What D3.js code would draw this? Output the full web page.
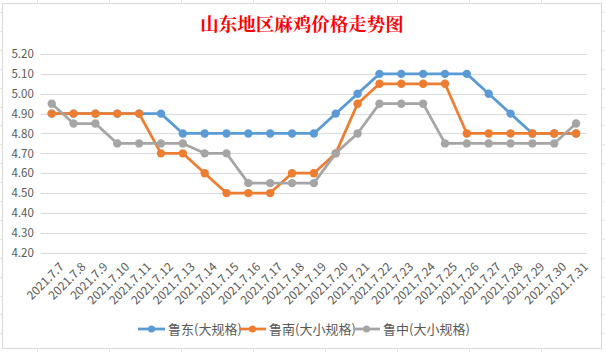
<!DOCTYPE html>
<html><head><meta charset="utf-8">
<script src="https://cdn.jsdelivr.net/npm/d3@7"></script>
<style>html,body{margin:0;padding:0;background:#fff;}svg{display:block;}</style>
</head><body>
<svg id="c" width="605" height="352"></svg>
<script>
const categories = ["2021.7.7","2021.7.8","2021.7.9","2021.7.10","2021.7.11","2021.7.12","2021.7.13","2021.7.14","2021.7.15","2021.7.16","2021.7.17","2021.7.18","2021.7.19","2021.7.20","2021.7.21","2021.7.22","2021.7.23","2021.7.24","2021.7.25","2021.7.26","2021.7.27","2021.7.28","2021.7.29","2021.7.30","2021.7.31"];
const ludong = [4.90,4.90,4.90,4.90,4.90,4.90,4.80,4.80,4.80,4.80,4.80,4.80,4.80,4.90,5.00,5.10,5.10,5.10,5.10,5.10,5.00,4.90,4.80,4.80,4.80];
const lunan  = [4.90,4.90,4.90,4.90,4.90,4.70,4.70,4.60,4.50,4.50,4.50,4.60,4.60,4.70,4.95,5.05,5.05,5.05,5.05,4.80,4.80,4.80,4.80,4.80,4.80];
const luzhong= [4.95,4.85,4.85,4.75,4.75,4.75,4.75,4.70,4.70,4.55,4.55,4.55,4.55,4.70,4.80,4.95,4.95,4.95,4.75,4.75,4.75,4.75,4.75,4.75,4.85];
const seriesNames = ["鲁东(大规格)","鲁南(大小规格)","鲁中(大小规格)"];
const yTicks = [4.2,4.3,4.4,4.5,4.6,4.7,4.8,4.9,5.0,5.1,5.2];
const title = "山东地区麻鸡价格走势图";

const colors = ["#5B9BD5","#ED7D31","#A5A5A5"];
const seriesData = [ludong, lunan, luzhong];
const svg = d3.select("#c");
const font = "'Microsoft YaHei','Noto Sans CJK SC','Noto Sans',sans-serif";

// spreadsheet background grid
const bg = svg.append("g");
d3.range(37, 605, 72).forEach(x => bg.append("line").attr("x1",x+0.5).attr("x2",x+0.5).attr("y1",0).attr("y2",352).attr("stroke","#e3e3e3"));
d3.range(12, 352, 18.9).forEach(y => bg.append("line").attr("x1",0).attr("x2",605).attr("y1",Math.round(y)+0.5).attr("y2",Math.round(y)+0.5).attr("stroke","#e3e3e3"));
// chart area
svg.append("rect").attr("x",2.5).attr("y",3.5).attr("width",599).attr("height",345).attr("fill","#fff").attr("stroke","#d9d9d9");

const x = d3.scaleBand().domain(categories).range([40.8, 587]);
const y = d3.scaleLinear().domain([4.2, 5.2]).range([252.7, 54]);
const cx = d => x(d) + x.bandwidth()/2;

// gridlines
svg.append("g").selectAll("line").data(yTicks).join("line")
  .attr("x1", 40.8).attr("x2", 587)
  .attr("y1", d => Math.round(y(d))+0.5).attr("y2", d => Math.round(y(d))+0.5)
  .attr("stroke", "#d9d9d9").attr("stroke-width", 1);

// y axis
const yAxis = d3.axisLeft(y).tickValues(yTicks).tickFormat(d3.format(".2f")).tickSize(0).tickPadding(7);
const ya = svg.append("g").attr("transform","translate(40.8,0)").call(yAxis);
ya.select(".domain").remove();
ya.selectAll("text").attr("fill","#595959").style("font-family",font).style("font-size","11.5px");

// x axis
const xAxis = d3.axisBottom(x).tickSize(0);
const xa = svg.append("g").attr("transform","translate(0,252.7)").call(xAxis);
xa.select(".domain").remove();
xa.selectAll("text")
  .attr("fill","#595959").style("font-family",font).style("font-size","12px")
  .attr("text-anchor","end").attr("dy",null).attr("y",null)
  .attr("transform","translate(7,9) rotate(-45)")
  .attr("dy","0.7em");

// lines
const line = d3.line().x((d,i) => cx(categories[i])).y(d => y(d));
seriesData.forEach((s, k) => {
  const g = svg.append("g");
  g.append("path").datum(s).attr("d", line).attr("fill","none")
    .attr("stroke", colors[k]).attr("stroke-width", 2.75).attr("stroke-linejoin","round").attr("stroke-linecap","round");
  g.selectAll("circle").data(s).join("circle")
    .attr("cx", (d,i) => cx(categories[i])).attr("cy", d => y(d)).attr("r", 4.2)
    .attr("fill", colors[k]);
});

// title
svg.append("text").attr("x", 302).attr("y", 31).attr("text-anchor","middle")
  .attr("fill","#FF0000").style("font-family","'Noto Serif CJK SC','Noto Sans CJK SC',serif")
  .style("font-weight","bold").style("font-size","18.5px").text(title);

// legend
const legendX = [138, 239, 353];
seriesNames.forEach((n, k) => {
  const g = svg.append("g").attr("transform", `translate(${legendX[k]},329)`);
  g.append("line").attr("x1",0).attr("x2",27).attr("y1",0).attr("y2",0).attr("stroke",colors[k]).attr("stroke-width",2.75);
  g.append("circle").attr("cx",13.5).attr("cy",0).attr("r",3.5).attr("fill",colors[k]);
  g.append("text").attr("x",30).attr("y",0).attr("dy","0.35em").attr("fill","#595959")
    .style("font-family",font).style("font-size","13px").text(n);
});
</script>
</body></html>
